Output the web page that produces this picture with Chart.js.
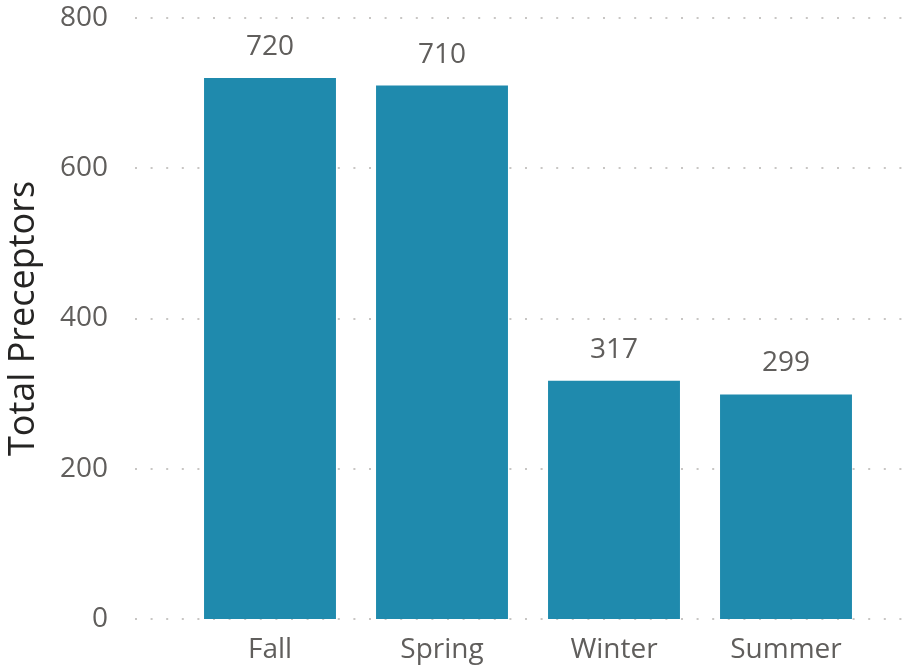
<!DOCTYPE html>
<html>
<head>
<meta charset="utf-8">
<script src="https://cdn.jsdelivr.net/npm/chart.js@4.4.1/dist/chart.umd.min.js"></script>
<style>
    html, body { margin: 0; padding: 0; background: #fff; }
    canvas { display: block; }
</style>
</head>
<body>
<canvas id="preceptors-by-term" width="902" height="668"></canvas>
<script>
const seasons = ['Fall', 'Spring', 'Winter', 'Summer'];
const totalPreceptors = [720, 710, 317, 299];
const yTicks = [0, 200, 400, 600, 800];

const textGray = '#605e5c';
const fontFamily = "'Open Sans', 'Noto Sans', sans-serif";

// dotted gridlines run wider than the bars, so draw them ourselves
const dottedGrid = {
    id: 'dottedGrid',
    beforeDatasetsDraw(chart) {
        const ctx = chart.ctx;
        const y = chart.scales.y;
        ctx.save();
        ctx.strokeStyle = '#c8c6c4';
        ctx.lineWidth = 2;
        ctx.setLineDash([2, 13.6]);
        yTicks.forEach(v => {
            let py = Math.round(y.getPixelForValue(v));
            ctx.beginPath();
            ctx.moveTo(y.right - 49, py);
            ctx.lineTo(chart.width, py);
            ctx.stroke();
        });
        ctx.restore();
    }
};

const valueLabels = {
    id: 'valueLabels',
    afterDatasetsDraw(chart) {
        const ctx = chart.ctx;
        const meta = chart.getDatasetMeta(0);
        ctx.save();
        ctx.fillStyle = textGray;
        ctx.font = '28px ' + fontFamily;
        ctx.textAlign = 'center';
        ctx.textBaseline = 'bottom';
        meta.data.forEach((bar, i) => {
            ctx.fillText(totalPreceptors[i], bar.x, bar.y - 17);
        });
        ctx.restore();
    }
};

var ctx = document.getElementById('preceptors-by-term');
var data = {
    labels: seasons,
    datasets: [{
        label: 'Total Preceptors',
        data: totalPreceptors,
        backgroundColor: '#1f8aad',
        borderWidth: 0,
        barPercentage: 0.767,
        categoryPercentage: 1
    }]
};

var options = {
    responsive: false,
    animation: false,
    layout: {
        padding: { top: 18, right: 30, left: 0, bottom: 0 }
    },
    plugins: {
        legend: { display: false },
        tooltip: { enabled: false }
    },
    scales: {
        x: {
            grid: { display: false, drawTicks: false },
            border: { display: false },
            ticks: {
                color: textGray,
                padding: 14,
                font: { family: fontFamily, size: 28 }
            },
            afterFit: scale => { scale.height = 49; }
        },
        y: {
            min: 0,
            max: 800,
            afterBuildTicks: scale => { scale.ticks = yTicks.map(v => ({ value: v })); },
            grid: { display: false, drawTicks: false },
            border: { display: false },
            ticks: {
                color: textGray,
                padding: 76,
                font: { family: fontFamily, size: 28 }
            },
            title: {
                display: true,
                text: 'Total Preceptors',
                color: '#252423',
                padding: { top: 2, bottom: 0 },
                font: { family: fontFamily, size: 36 }
            },
            afterFit: scale => {
                scale.width = 184;
                // tick padding also gets added top/bottom, undo that
                scale.paddingTop = 0;
                scale.paddingBottom = 0;
            }
        }
    }
};

var termChart = new Chart(ctx, {
    type: 'bar',
    data: data,
    options: options,
    plugins: [dottedGrid, valueLabels]
});
</script>
</body>
</html>
